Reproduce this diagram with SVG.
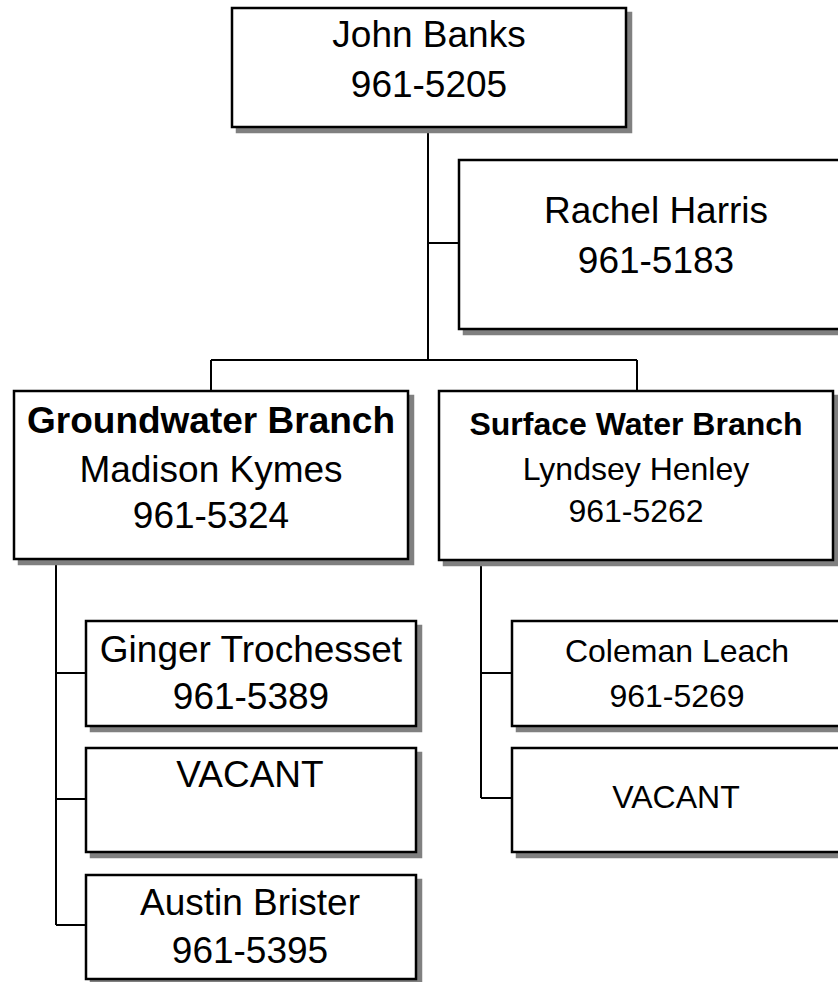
<svg xmlns="http://www.w3.org/2000/svg" width="838" height="982" viewBox="0 0 838 982">
<style>
.sh{fill:#808080;stroke:#808080;stroke-width:2.5}
.bx{fill:#fff;stroke:#000;stroke-width:2.5}
.t{font-family:"Liberation Sans",Arial,sans-serif;font-size:37px;fill:#000;text-anchor:middle}
.s{font-size:32px}
.b{font-weight:bold}
.c{fill:none;stroke:#000;stroke-width:2}
</style>
<rect width="838" height="982" fill="#fff"/>
<g id="connectors">
<path class="c" d="M428,127V360M428,243H459M211,360H637M211,360V391M637,360V391"/>
<path class="c" d="M56,559V925M56,673H86M56,799H86M56,925H86"/>
<path class="c" d="M481,560V798M481,673H512M481,798H512"/>
</g>
<g id="john">
<rect class="sh" x="237" y="13" width="394" height="119"/>
<rect class="bx" x="232" y="8" width="394" height="119"/>
<text class="t" x="429" y="47">John Banks</text>
<text class="t" x="429" y="97">961-5205</text>
</g>
<g id="rachel">
<rect class="sh" x="464" y="165" width="393" height="169"/>
<rect class="bx" x="459" y="160" width="393" height="169"/>
<text class="t" x="656" y="223">Rachel Harris</text>
<text class="t" x="656" y="273">961-5183</text>
</g>
<g id="groundwater">
<rect class="sh" x="19" y="396" width="394" height="168"/>
<rect class="bx" x="14" y="391" width="394" height="168"/>
<text class="t b" x="211" y="433">Groundwater Branch</text>
<text class="t" x="211" y="482">Madison Kymes</text>
<text class="t" x="211" y="528">961-5324</text>
</g>
<g id="surface">
<rect class="sh" x="444" y="396" width="394" height="169"/>
<rect class="bx" x="439" y="391" width="394" height="169"/>
<text class="t s b" x="636" y="435">Surface Water Branch</text>
<text class="t s" x="636" y="480">Lyndsey Henley</text>
<text class="t s" x="636" y="522">961-5262</text>
</g>
<g id="ginger">
<rect class="sh" x="91" y="626" width="330" height="105"/>
<rect class="bx" x="86" y="621" width="330" height="105"/>
<text class="t" x="251" y="662">Ginger Trochesset</text>
<text class="t" x="251" y="709">961-5389</text>
</g>
<g id="vacant1">
<rect class="sh" x="91" y="753" width="330" height="104"/>
<rect class="bx" x="86" y="748" width="330" height="104"/>
<text class="t" x="250" y="787">VACANT</text>
</g>
<g id="austin">
<rect class="sh" x="91" y="880" width="330" height="104"/>
<rect class="bx" x="86" y="875" width="330" height="104"/>
<text class="t" x="250" y="915">Austin Brister</text>
<text class="t" x="250" y="963">961-5395</text>
</g>
<g id="coleman">
<rect class="sh" x="517" y="626" width="330" height="105"/>
<rect class="bx" x="512" y="621" width="330" height="105"/>
<text class="t s" x="677" y="662">Coleman Leach</text>
<text class="t s" x="677" y="707">961-5269</text>
</g>
<g id="vacant2">
<rect class="sh" x="517" y="753" width="330" height="104"/>
<rect class="bx" x="512" y="748" width="330" height="104"/>
<text class="t s" x="676" y="808">VACANT</text>
</g>
</svg>
